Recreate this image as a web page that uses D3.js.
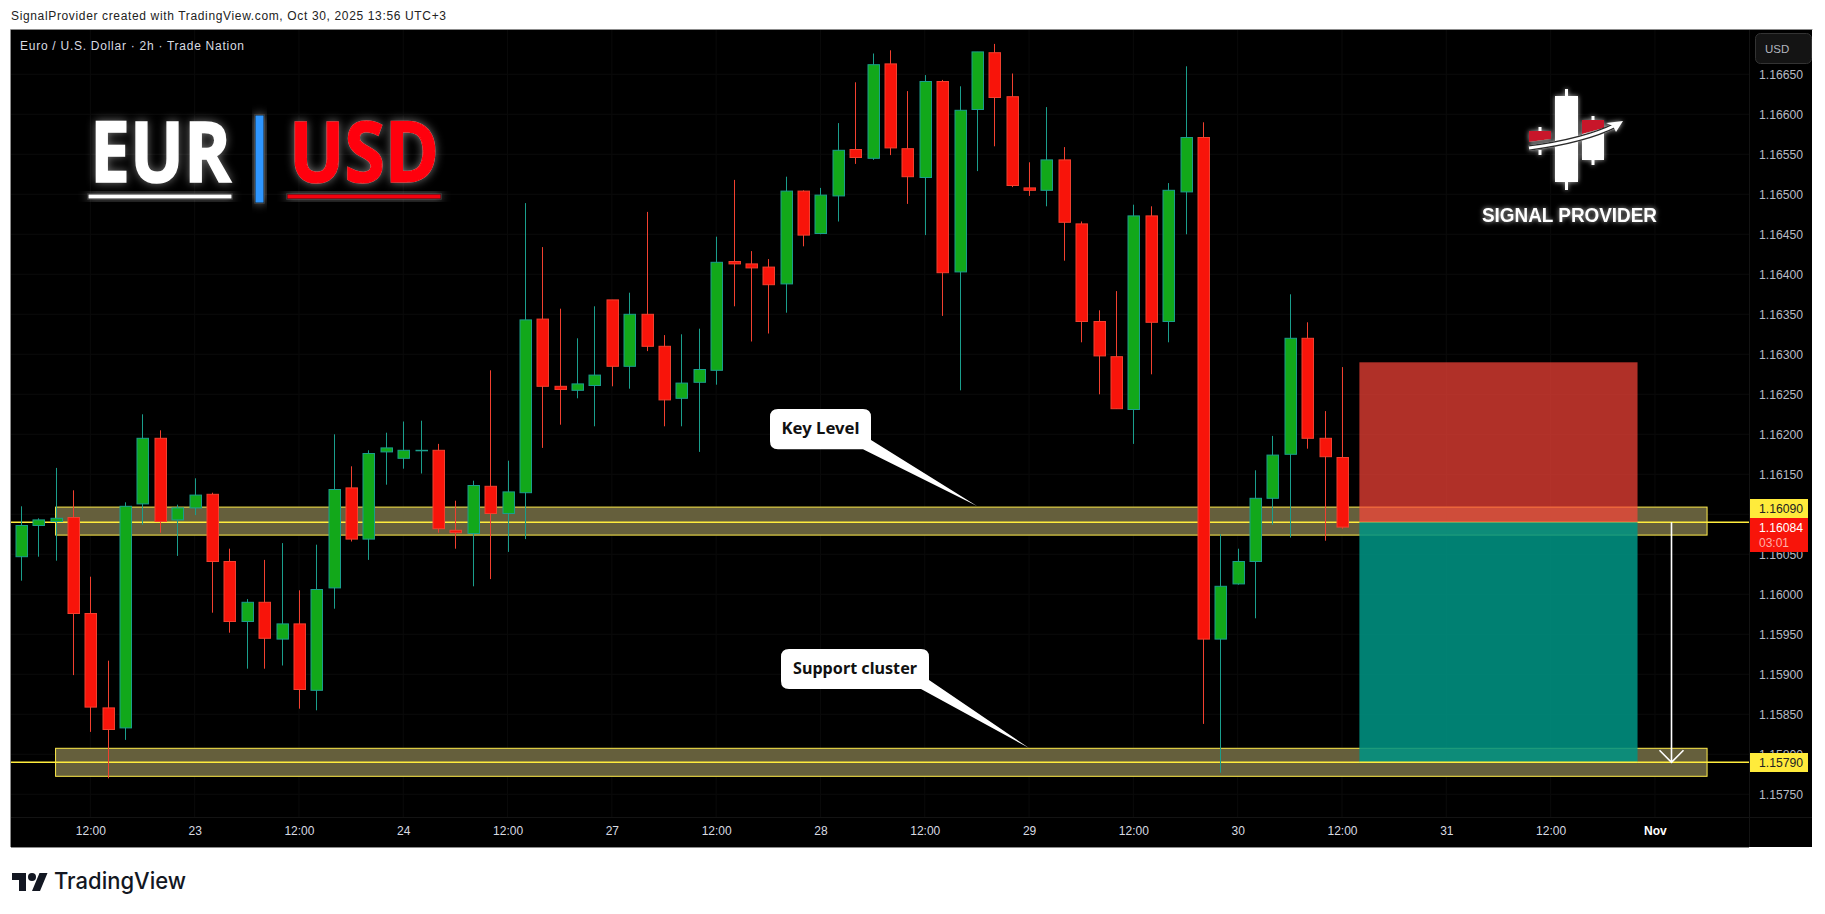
<!DOCTYPE html>
<html><head><meta charset="utf-8">
<style>html,body{margin:0;padding:0;background:#fff}svg{display:block}text{font-family:"Liberation Sans",Arial,sans-serif}</style>
<script src="https://cdnjs.cloudflare.com/ajax/libs/d3/7.8.5/d3.min.js"></script>
</head><body><svg id="c" width="1825" height="914"></svg>
<script>
const opens=[1.16047,1.16086,1.16091,1.16096,1.15976,1.15858,1.15833,1.16113,1.16195,1.16093,1.16108,1.16125,1.16041,1.15966,1.15990,1.15944,1.15963,1.15880,1.16008,1.16133,1.16069,1.16178,1.16170,1.16180,1.16180,
1.16080,1.16076,1.16135,1.16101,1.16127,1.16344,1.16260,1.16255,1.16261,1.16368,1.16285,1.16350,1.16310,1.16245,1.16265,1.16280,1.16416,1.16413,1.16409,1.16388,1.16504,1.16451,1.16498,
1.16556,1.16545,1.16663,1.16557,1.16521,1.16641,1.16403,1.16606,1.16677,1.16622,1.16508,1.16505,1.16543,1.16463,1.16341,1.16297,1.16231,1.16473,1.16341,1.16503,1.16571,1.15944,1.16013,1.16041,1.16120,1.16175,1.16320,1.16195,1.16171];
const highs=[1.16110,1.16095,1.16158,1.16130,1.16022,1.15917,1.16115,1.16225,1.16205,1.16112,1.16145,1.16127,1.16057,1.15994,1.16043,1.16064,1.16005,1.16062,1.16200,1.16160,1.16180,1.16202,1.16216,1.16217,1.16188,
1.16117,1.16142,1.16280,1.16167,1.16489,1.16434,1.16357,1.16320,1.16360,1.16368,1.16377,1.16478,1.16324,1.16325,1.16332,1.16447,1.16518,1.16429,1.16419,1.16522,1.16505,1.16508,1.16589,
1.16640,1.16676,1.16680,1.16629,1.16649,1.16643,1.16635,1.16678,1.16688,1.16651,1.16540,1.16609,1.16559,1.16466,1.16355,1.16379,1.16487,1.16485,1.16514,1.16660,1.16590,1.16075,1.16057,1.16155,1.16198,1.16375,1.16340,1.16229,1.16284];
const lows=[1.16017,1.16047,1.16042,1.15899,1.15828,1.15770,1.15818,1.16087,1.16077,1.16048,1.16099,1.15977,1.15952,1.15907,1.15907,1.15911,1.15857,1.15855,1.15982,1.16066,1.16043,1.16137,1.16157,1.16151,1.16077,
1.16057,1.16010,1.16019,1.16053,1.16069,1.16183,1.16212,1.16245,1.16210,1.16260,1.16257,1.16304,1.16210,1.16210,1.16178,1.16262,1.16360,1.16316,1.16326,1.16352,1.16435,1.16450,1.16466,
1.16538,1.16543,1.16549,1.16488,1.16449,1.16348,1.16255,1.16529,1.16560,1.16509,1.16498,1.16485,1.16417,1.16315,1.16250,1.16232,1.16188,1.16275,1.16315,1.16450,1.15838,1.15777,1.16012,1.15970,1.16087,1.16071,1.16182,1.16067,1.16082];
const closes=[1.16086,1.16093,1.16095,1.15976,1.15859,1.15831,1.16110,1.16195,1.16091,1.16108,1.16124,1.16041,1.15966,1.15990,1.15945,1.15963,1.15881,1.16006,1.16131,1.16069,1.16176,1.16183,1.16180,1.16180,1.16082,
1.16077,1.16136,1.16101,1.16128,1.16343,1.16260,1.16256,1.16263,1.16274,1.16285,1.16350,1.16310,1.16243,1.16264,1.16281,1.16415,1.16413,1.16408,1.16387,1.16504,1.16449,1.16499,1.16555,
1.16546,1.16662,1.16558,1.16522,1.16641,1.16402,1.16605,1.16678,1.16621,1.16511,1.16505,1.16543,1.16465,1.16341,1.16298,1.16232,1.16473,1.16340,1.16505,1.16571,1.15944,1.16010,1.16041,1.16120,1.16174,1.16320,1.16195,1.16172,1.16084];
const priceTicks=[1.1665,1.166,1.1655,1.165,1.1645,1.164,1.1635,1.163,1.1625,1.162,1.1615,1.161,1.1605,1.16,1.1595,1.159,1.1585,1.158,1.1575];
const timeLabels=["12:00","23","12:00","24","12:00","27","12:00","28","12:00","29","12:00","30","12:00","31","12:00","Nov"];
const timeBars=[4,10,16,22,28,34,40,46,52,58,64,70,76,82,88,94];
const keyLevel=1.16090, supportLevel=1.15790, lastPrice=1.16084, stopPrice=1.16290;
const zone1=[1.16109,1.16074], zone2=[1.158075,1.157725], zoneBars=[2,97], positionBars=[77,93];

const GREEN="#12a81a",RED="#f8140a",TEAL="#1a9e8c",ORED="#f2402f";
const x=d3.scaleLinear().domain([0,76]).range([20.8,1342]);
const y=d3.scaleLinear().domain([1.16,1.1665]).range([594.3,74.3]);
const L=11,R=1812,T=30,B=847,AX=1749,AY=817;
const svg=d3.select("#c");
const defs=svg.append("defs");
function glow(id,dev,col,op){const f=defs.append("filter").attr("id",id).attr("x","-30%").attr("y","-50%").attr("width","160%").attr("height","200%");
 f.append("feGaussianBlur").attr("in","SourceAlpha").attr("stdDeviation",dev).attr("result","b");
 f.append("feFlood").attr("flood-color",col).attr("flood-opacity",op);f.append("feComposite").attr("in2","b").attr("operator","in").attr("result","g");
 const m=f.append("feMerge");m.append("feMergeNode").attr("in","g");m.append("feMergeNode").attr("in","SourceGraphic");}
glow("glow",5,"#fff",.45);glow("glowS",2.5,"#fff",.7);

svg.append("text").attr("x",11).attr("y",20).attr("font-size",12).attr("fill","#222").attr("textLength",435).attr("lengthAdjust","spacing")
 .text("SignalProvider created with TradingView.com, Oct 30, 2025 13:56 UTC+3");
svg.append("rect").attr("x",L).attr("y",T).attr("width",R-L).attr("height",B-T).attr("fill","#000");
svg.append("path").attr("d",`M${L-.5} ${B}V${T-.5}H${R+.5}`).attr("fill","none").attr("stroke","#8c8c8c");
svg.append("path").attr("d",`M${L} ${B+.5}H${AX}`).attr("stroke","#8c8c8c");

const grid=svg.append("g").attr("stroke","#0a0a0a");
grid.selectAll(".h").data(priceTicks).join("line").attr("x1",L).attr("x2",AX).attr("y1",d=>y(d)).attr("y2",d=>y(d));
grid.selectAll(".v").data(timeBars).join("line").attr("x1",d=>x(d)).attr("x2",d=>x(d)).attr("y1",T).attr("y2",AY);
svg.append("path").attr("d",`M${AX+.5} ${T}V${B}M${L} ${AY+.5}H${R}`).attr("stroke","#131313");

const zones=svg.append("g");
[zone1,zone2].forEach(z=>zones.append("rect").attr("x",x(zoneBars[0])).attr("width",x(zoneBars[1])-x(zoneBars[0])).attr("y",y(z[0])).attr("height",y(z[1])-y(z[0]))
 .attr("fill","#655f3c").attr("stroke","#ffec4a").attr("stroke-width",1));
[keyLevel,supportLevel].forEach(p=>svg.append("line").attr("x1",L).attr("x2",AX).attr("y1",y(p)).attr("y2",y(p)).attr("stroke","#ffec3d").attr("stroke-width",1.6));

const idx=d3.range(opens.length);
const up=i=>closes[i]>=opens[i];
const c=svg.append("g");
c.selectAll("line").data(idx).join("line").attr("x1",i=>Math.round(x(i))+.5).attr("x2",i=>Math.round(x(i))+.5).attr("y1",i=>y(highs[i])).attr("y2",i=>y(lows[i]))
 .attr("stroke",i=>up(i)?TEAL:ORED).attr("stroke-width",1);
c.selectAll("rect").data(idx).join("rect").attr("x",i=>Math.round(x(i))-5.5+.5).attr("width",11.5)
 .attr("y",i=>y(Math.max(opens[i],closes[i]))).attr("height",i=>Math.max(.5,Math.abs(y(opens[i])-y(closes[i]))))
 .attr("fill",i=>up(i)?GREEN:RED).attr("stroke",i=>up(i)?TEAL:ORED).attr("stroke-width",1);

// position tool
const px0=x(positionBars[0]),px1=x(positionBars[1]);
svg.append("rect").attr("x",px0).attr("width",px1-px0).attr("y",y(stopPrice)).attr("height",y(keyLevel)-y(stopPrice)).attr("fill","rgb(255,70,58)").attr("fill-opacity",.69);
svg.append("rect").attr("x",px0).attr("width",px1-px0).attr("y",y(keyLevel)).attr("height",y(supportLevel)-y(keyLevel)).attr("fill","rgb(0,147,131)").attr("fill-opacity",.87);
svg.append("line").attr("x1",px0).attr("x2",px1).attr("y1",y(supportLevel)).attr("y2",y(supportLevel)).attr("stroke","#ffec3d").attr("stroke-width",1.4);
const ax=1671.5;
svg.append("path").attr("d",`M${ax} ${y(keyLevel)}V${y(supportLevel)}M${ax-12} ${y(supportLevel)-12}L${ax} ${y(supportLevel)}L${ax+12} ${y(supportLevel)-12}`).attr("fill","none").attr("stroke","#fff").attr("stroke-width",1.6);

// EUR | USD
const lg=svg.append("g");
const big=(t,x0,w,col,st,sw)=>lg.append("text").attr("x",x0).attr("y",182).attr("font-size",85).attr("font-weight",700).style("font-family","'Open Sans'").style("paint-order","stroke").attr("textLength",w).attr("lengthAdjust","spacingAndGlyphs")
 .attr("fill",col).attr("stroke",st).attr("stroke-width",sw).attr("filter","url(#glow)").text(t);
big("EUR",90,141,"#fff","#fff",1.6);big("USD",289,150,"#ff0010","#ff0010",1.6);
lg.append("rect").attr("x",88).attr("y",194).attr("width",144).attr("height",5).attr("fill","#fff").attr("stroke","#222").attr("filter","url(#glow)");
lg.append("rect").attr("x",287).attr("y",194).attr("width",154).attr("height",5).attr("fill","#f40010").attr("stroke","#222").attr("filter","url(#glow)");
lg.append("rect").attr("x",255).attr("y",115).attr("width",9).attr("height",88).attr("fill","#2e96ff").attr("stroke","#222").attr("filter","url(#glow)");

// signal provider logo
const sp=svg.append("g").attr("filter","url(#glowS)");
sp.append("path").attr("d","M1566.5 89V190M1540 127V131M1540 150V155M1593 116V120M1593 160V165").attr("stroke","#fff").attr("stroke-width",3);
sp.append("rect").attr("x",1555).attr("y",96).attr("width",23).attr("height",86).attr("fill","#fff");
sp.append("rect").attr("x",1582).attr("y",133).attr("width",22).attr("height",27).attr("fill","#fff");
sp.append("path").attr("d","M1529 131H1551V139L1529 142Z").attr("fill","#c8182a");
sp.append("path").attr("d","M1582 120H1604V128L1582 134Z").attr("fill","#c8182a");
sp.append("path").attr("d","M1529 148C1560 144 1590 138 1616 125").attr("fill","none").attr("stroke","#2a2a2a").attr("stroke-width",5.5);
sp.append("path").attr("d","M1529 148C1560 144 1590 138 1616 125").attr("fill","none").attr("stroke","#fff").attr("stroke-width",3);
sp.append("path").attr("d","M1623 121L1606 123L1613 126L1616 132Z").attr("fill","#fff");
svg.append("text").attr("x",1482).attr("y",222).attr("font-size",20).attr("font-weight",700).attr("fill","#fff").attr("textLength",175).attr("lengthAdjust","spacingAndGlyphs").attr("filter","url(#glowS)").text("SIGNAL PROVIDER");

// callouts
function callout(bx,by,w,h,tail,t,tw){
 const r=8;
 svg.append("path").attr("d",`M${bx+r} ${by}H${bx+w-r}Q${bx+w} ${by} ${bx+w} ${by+r}V${tail[0][1]}L${tail[1][0]} ${tail[1][1]}L${tail[2][0]} ${by+h}H${bx+r}Q${bx} ${by+h} ${bx} ${by+h-r}V${by+r}Q${bx} ${by} ${bx+r} ${by}Z`).attr("fill","#fff");
 svg.append("text").attr("x",bx+w/2).attr("y",by+h/2+4.5).attr("text-anchor","middle").attr("font-size",16.5).attr("font-weight",700).style("font-family","'Noto Sans'").attr("fill","#111")
  .attr("textLength",tw).attr("lengthAdjust","spacingAndGlyphs").text(t);
}
callout(770,409,101,40.3,[[871,440],[977,506],[863,449]],"Key Level",78);
callout(781,649,148,40,[[929,680],[1029,748],[921,689]],"Support cluster",124);

// pane legend
svg.append("text").attr("x",20).attr("y",50).attr("font-size",12).attr("fill","#d8dbe2").attr("textLength",224).attr("lengthAdjust","spacing").text("Euro / U.S. Dollar · 2h · Trade Nation");

// axes
const pAxis=d3.axisRight(y).tickValues(priceTicks).tickSize(0).tickPadding(0).tickFormat(d3.format(".5f"));
const pg=svg.append("g").attr("transform","translate(1759,0)").call(pAxis);
pg.select(".domain").remove();pg.selectAll("text").attr("font-size",12.2).attr("fill","#b8bbc4").style("font-family","'Liberation Sans'");
const tAxis=d3.axisBottom(x).tickValues(timeBars).tickSize(0).tickPadding(0).tickFormat((d,i)=>timeLabels[i]);
const tg=svg.append("g").attr("transform","translate(0,826)").call(tAxis);
tg.select(".domain").remove();tg.selectAll("text").attr("font-size",12).style("font-family","'Liberation Sans'")
 .attr("font-weight",(d,i)=>timeLabels[i]==="Nov"?700:400).attr("fill",(d,i)=>timeLabels[i]==="Nov"?"#fff":"#d8dbe2");

// USD box
svg.append("rect").attr("x",1755.5).attr("y",33.5).attr("width",56).attr("height",30).attr("rx",5).attr("fill","#141414").attr("stroke","#333");
svg.append("text").attr("x",1765).attr("y",53).attr("font-size",11.5).attr("fill","#b2b5be").text("USD");

// price labels
function lbl(y0,h,col,txt,tc,extra){
 svg.append("rect").attr("x",1750).attr("y",y0).attr("width",58).attr("height",h).attr("fill",col);
 svg.append("text").attr("x",1759).attr("y",y0+(extra?14:13.5)).attr("font-size",12.2).attr("fill",tc).text(txt);
 if(extra)svg.append("text").attr("x",1759).attr("y",y0+29).attr("font-size",12).attr("fill","#ffb0a8").text(extra);
}
const fmt=d3.format(".5f");
lbl(499,19,"#ffeb3b",fmt(keyLevel),"#222");
lbl(518,34,"#f8140a",fmt(lastPrice),"#fff","03:01");
lbl(753,19,"#ffeb3b",fmt(supportLevel),"#222");

// TradingView footer
const tv=svg.append("g").attr("transform","translate(12,869)").attr("fill","#131722");
tv.append("path").attr("d","M14 22H7V11H0V4h14v18zM28 22h-8l7.5-18h8L28 22z");tv.append("circle").attr("cx",20).attr("cy",8).attr("r",4);
svg.append("text").attr("x",54).attr("y",889).attr("font-size",23).attr("font-weight",500).style("font-family","Inter").attr("fill","#131722").attr("textLength",132).attr("lengthAdjust","spacingAndGlyphs").text("TradingView");
</script></body></html>
